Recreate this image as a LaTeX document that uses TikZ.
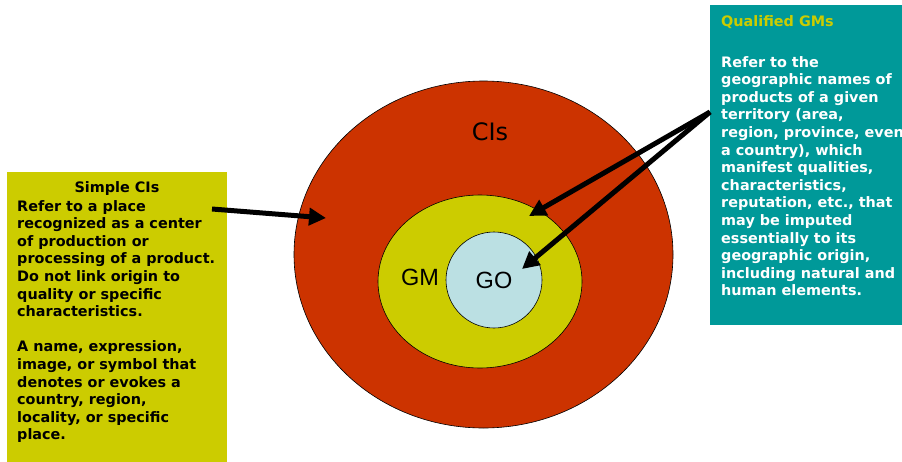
\documentclass[tikz,border=0pt]{standalone}
\usepackage{fontspec}
\setmainfont{DejaVu Sans}
\newfontfamily\arialfont{Liberation Sans}
\usetikzlibrary{shapes.geometric,arrows.meta,positioning}
\definecolor{cisred}{RGB}{204,51,0}
\definecolor{gmolive}{RGB}{204,204,0}
\definecolor{goblue}{RGB}{187,224,227}
\definecolor{qualteal}{RGB}{0,153,153}
\begin{document}
\begin{tikzpicture}[x=1pt, y=-1pt,
    ring/.style={ellipse, draw, line width=0.6pt, inner sep=0},
    infobox/.style={rectangle, inner sep=0, anchor=north west},
    infotext/.style={inner sep=0, anchor=north west, align=left,
      font=\bfseries\fontsize{14.4}{17.6}\selectfont},
    bigarrow/.style={-{Triangle[length=17pt,width=17pt]}, line width=5pt}]
  \useasboundingbox (0,0) rectangle (902,461);
  % circles
  \node[ring, fill=cisred, minimum width=379, minimum height=347] (cis) at (483.5,254.5) {};
  \node[ring, fill=gmolive, minimum width=204, minimum height=173] (gm) at (480,281.5) {};
  \node[ring, fill=goblue, minimum size=96, font=\arialfont\fontsize{23.5}{26}\selectfont] (go) at (494,280) {GO};
  \node[font=\fontsize{24}{28}\selectfont] (cislabel) at (490,132) {CIs};
  \node[font=\arialfont\fontsize{23.5}{26}\selectfont] (gmlabel) at (420,277) {GM};
  % boxes
  \node[infobox, fill=gmolive, minimum width=220, minimum height=300] (simplebox) at (7,172) {};
  \node[infobox, fill=qualteal, minimum width=200, minimum height=320] (qualbox) at (710,5) {};
  \node[infotext, anchor=north] (simpletitle) at (117,181) {Simple CIs};
  \node[infotext] (simpletext) at (17,200) {Refer to a place\\
    recognized as a center\\
    of production or\\
    processing of a product.\\
    Do not link origin to\\
    quality or specific\\
    characteristics.\\[17.6pt]
    A name, expression,\\
    image, or symbol that\\
    denotes or evokes a\\
    country, region,\\
    locality, or specific\\
    place.};
  \node[infotext, text=gmolive] (qualtitle) at (721,15) {Qualified GMs};
  \node[infotext, text=white] (qualtext) at (721,56) {Refer to the\\
    geographic names of\\
    products of a given\\
    territory (area,\\
    region, province, even\\
    a country), which\\
    manifest qualities,\\
    characteristics,\\
    reputation, etc., that\\
    may be imputed\\
    essentially to its\\
    geographic origin,\\
    including natural and\\
    human elements.};
  % arrows
  \coordinate (simplefrom) at (212,209);
  \coordinate (cistip) at (326,218);
  \coordinate (qualfrom) at (710,112);
  \coordinate (gmtip) at (529,216);
  \coordinate (gotip) at (522,269);
  \draw[bigarrow] (simplefrom) -- (cistip);
  \draw[bigarrow] (qualfrom) -- (gmtip);
  \draw[bigarrow] (qualfrom) -- (gotip);
\end{tikzpicture}
\end{document}
